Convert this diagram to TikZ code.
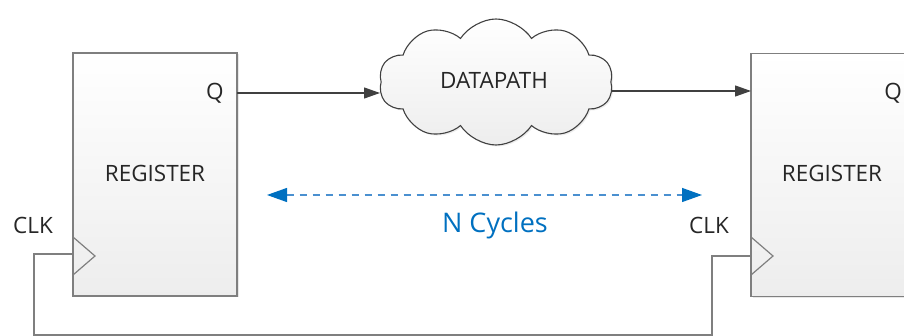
\documentclass[tikz,border=0pt]{standalone}
\usepackage{fontspec}
\setmainfont{Open Sans}
\usetikzlibrary{arrows.meta,shapes.symbols,shadows}
\definecolor{lineg}{HTML}{404040}
\definecolor{boxg}{HTML}{7F7F7F}
\definecolor{nblue}{HTML}{0070C0}
\definecolor{dblue}{HTML}{4A90D0}
\tikzset{
  regbox/.style={draw=boxg, line width=1.2pt, top color=white, bottom color=black!7,
    minimum width=164pt, minimum height=243pt, inner sep=0pt,
    drop shadow={shadow xshift=1.5pt, shadow yshift=-1.5pt, opacity=0.18}},
  lbl/.style={font=\fontsize{22.5}{22.5}\selectfont, text=black!85, inner sep=0pt},
  sig/.style={draw=lineg, line width=1.2pt, -{Triangle[length=16pt,width=11pt]}},
  clkw/.style={draw=boxg, line width=1.6pt},
  clktri/.style={draw=boxg, line width=1.2pt}
}
\begin{document}
\begin{tikzpicture}[x=1pt,y=-1pt]
\useasboundingbox (0,0) rectangle (904,336);
% registers
\node[regbox] (r1) at (155,174.5) {};
\node[regbox] (r2) at (833,175) {};
\node[lbl] (t1) at (155,173) {REGISTER};
\node[lbl] (t2) at (832,173) {REGISTER};
\node[lbl] (q1) at (215,93) {Q};
\node[lbl] (q2) at (893,93) {Q};
\node[lbl] (c1) at (33,225) {CLK};
\node[lbl] (c2) at (709,225) {CLK};
% clock triangles
\coordinate (k1a) at (73,237); \coordinate (k1t) at (95,256); \coordinate (k1b) at (73,275);
\coordinate (k2a) at (751,237); \coordinate (k2t) at (773,256); \coordinate (k2b) at (751,275);
\draw[clktri] (k1a) -- (k1t) -- (k1b);
\draw[clktri] (k2a) -- (k2t) -- (k2b);
% cloud
\node[cloud, cloud puffs=10, cloud puff arc=115, aspect=1.9, draw=black!75, line width=1.1pt,
  top color=white, bottom color=black!7, minimum width=234pt, minimum height=126pt, inner sep=0pt,
  drop shadow={shadow xshift=1.5pt, shadow yshift=-1.5pt, opacity=0.15}] (dp) at (496,82) {};
\node[lbl] (dt) at (494,80) {DATAPATH};
% signal arrows
\coordinate (qo) at (237,93);
\coordinate (di) at (380,93);
\coordinate (do) at (612,91);
\coordinate (ri) at (751,91);
\draw[sig] (qo) -- (di);
\draw[sig] (do) -- (ri);
% clock wire
\coordinate (w1) at (73,254);
\coordinate (w2) at (34,254);
\coordinate (w3) at (34,335);
\coordinate (w4) at (712,335);
\coordinate (w5) at (712,256);
\coordinate (w6) at (751,256);
\draw[clkw] (w1) -- (w2) -- (w3) -- (w4) -- (w5) -- (w6);
% N cycles
\coordinate (na) at (267,195);
\coordinate (nb) at (702,195);
\draw[dblue, line width=1.3pt, dash pattern=on 7pt off 6pt,
  {Triangle[length=20pt,width=14pt,color=nblue]}-{Triangle[length=20pt,width=14pt,color=nblue]}] (na) -- (nb);
\node[font=\fontsize{27}{27}\selectfont, text=nblue, inner sep=0pt] (nc) at (495,225) {N Cycles};
\end{tikzpicture}
\end{document}
